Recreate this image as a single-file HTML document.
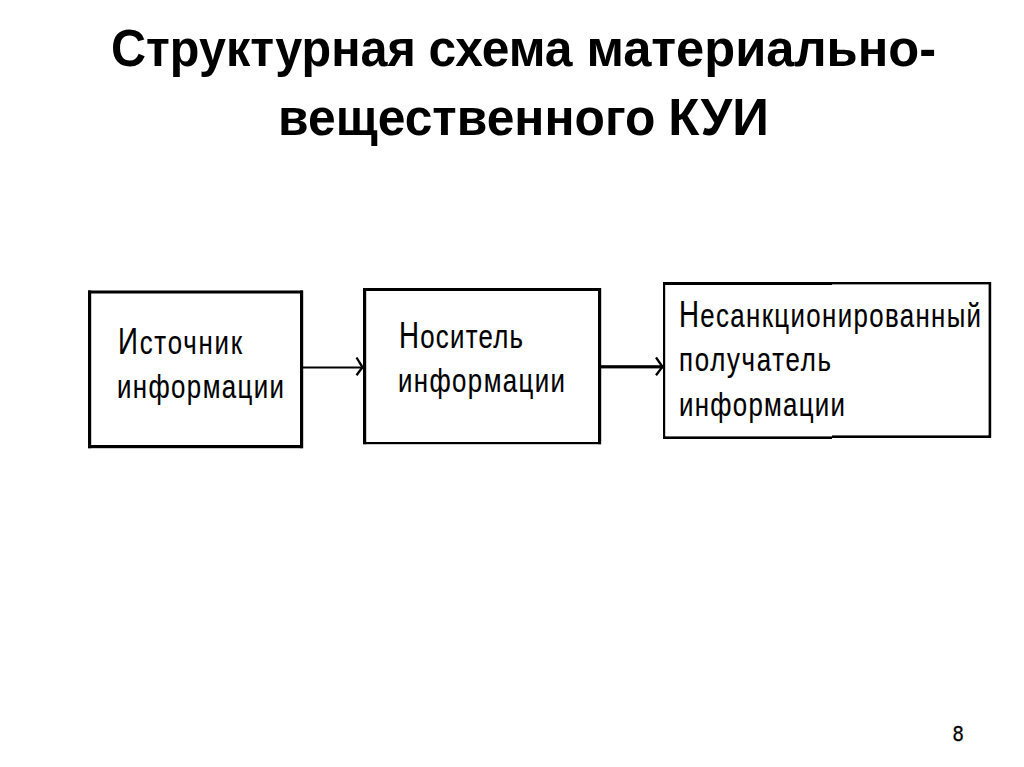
<!DOCTYPE html>
<html><head><meta charset="utf-8">
<style>
html,body{margin:0;padding:0;background:#fff;width:1024px;height:767px;overflow:hidden}
svg{display:block}
.t{font-family:"Liberation Sans",sans-serif;font-weight:bold;font-size:52px;fill:#000}
.d{font-family:"Liberation Sans",sans-serif;font-size:34px;fill:#000;stroke:#000;stroke-width:0.15px}
.n{font-family:"Liberation Sans",sans-serif;font-size:20px;fill:#000}
</style></head><body>
<svg width="1024" height="767" viewBox="0 0 1024 767">
<g fill="#000">
<rect x="88" y="290.5" width="215" height="3"/>
<rect x="88" y="445" width="215" height="3.2"/>
<rect x="88" y="290.5" width="3.2" height="157.7"/>
<rect x="300" y="290.5" width="3.2" height="157.7"/>
<rect x="363" y="288" width="238" height="3"/>
<rect x="363" y="442" width="238" height="2.2"/>
<rect x="363" y="288" width="3.2" height="156.2"/>
<rect x="598" y="288" width="3.2" height="156.2"/>
<rect x="663" y="282" width="169" height="3"/>
<rect x="832" y="282" width="159" height="2.4"/>
<rect x="663" y="436.4" width="169" height="2.6"/>
<rect x="832" y="435.4" width="159" height="2.6"/>
<rect x="663" y="282" width="2.2" height="157"/>
<rect x="988.6" y="282" width="2.6" height="155.7"/>
<rect x="303" y="366.5" width="60" height="2"/>
<rect x="601" y="365.2" width="62" height="3.2"/>
</g>
<g fill="none" stroke="#000" stroke-width="2.3">
<path d="M356.5 357.5L362.5 367.3L356.5 375.3"/>
<path d="M656 357.5L662.5 366.8L656 375.3"/>
</g>
<text class="t" x="111.00" y="66.2" textLength="304.90" lengthAdjust="spacingAndGlyphs">Структурная</text>
<text class="t" x="428.40" y="66.2" textLength="144.10" lengthAdjust="spacingAndGlyphs">схема</text>
<text class="t" x="586.40" y="66.2" textLength="349.60" lengthAdjust="spacingAndGlyphs">материально-</text>
<text class="t" x="278.00" y="135" textLength="377.40" lengthAdjust="spacingAndGlyphs">вещественного</text>
<text class="t" x="668.20" y="135" textLength="100.80" lengthAdjust="spacingAndGlyphs">КУИ</text>
<text class="d" transform="translate(118.00 353.5) scale(0.76 1)" textLength="163.16" lengthAdjust="spacing"><tspan font-size="36.5">И</tspan>сточник</text>
<text class="d" transform="translate(117.00 397.5) scale(0.76 1)" textLength="219.74" lengthAdjust="spacing">информации</text>
<text class="d" transform="translate(399.00 348) scale(0.76 1)" textLength="163.16" lengthAdjust="spacing"><tspan font-size="36.5">Н</tspan>оситель</text>
<text class="d" transform="translate(398.00 392) scale(0.76 1)" textLength="219.74" lengthAdjust="spacing">информации</text>
<text class="d" transform="translate(679.00 327) scale(0.76 1)" textLength="397.37" lengthAdjust="spacing"><tspan font-size="36.5">Н</tspan>есанкционированный</text>
<text class="d" transform="translate(679.00 371) scale(0.76 1)" textLength="200.00" lengthAdjust="spacing">получатель</text>
<text class="d" transform="translate(679.00 416) scale(0.76 1)" textLength="218.42" lengthAdjust="spacing">информации</text>
<text class="n" transform="translate(952.8 741) scale(0.9 1)" style="font-size:21.5px;stroke:#000;stroke-width:0.35px">8</text>
</svg>
</body></html>
